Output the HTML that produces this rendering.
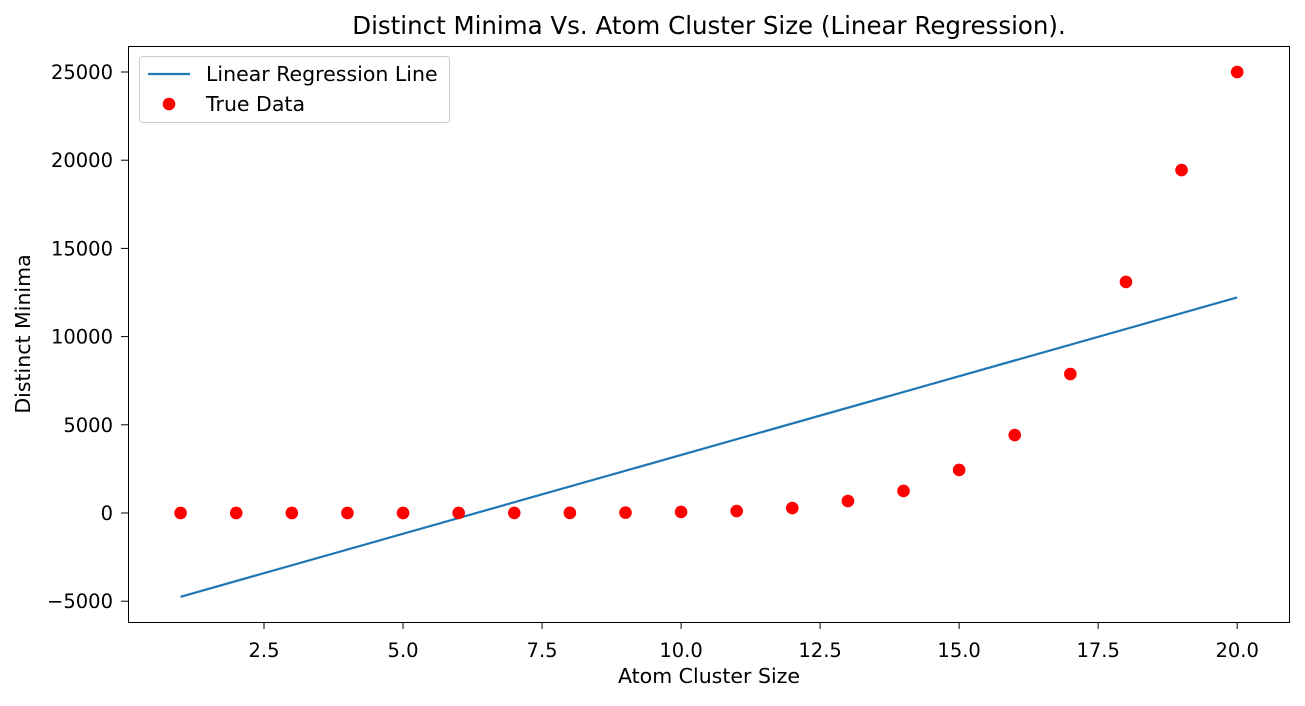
<!DOCTYPE html>
<html><head><meta charset="utf-8"><style>
body{margin:0;background:#fff}
svg text{font-family:"DejaVu Sans","Liberation Sans",sans-serif;fill:#000}
</style></head><body>
<svg id="chart" width="1305" height="701" xmlns="http://www.w3.org/2000/svg">
<rect width="1305" height="701" fill="#fff"/>
<text x="709" y="34" font-size="24.5" text-anchor="middle">Distinct Minima Vs. Atom Cluster Size (Linear Regression).</text>
<text x="709" y="683" font-size="20.5" text-anchor="middle">Atom Cluster Size</text>
<text x="0" y="0" font-size="20.5" text-anchor="middle" transform="translate(30,334) rotate(-90)">Distinct Minima</text>
<g id="marks"></g>
<rect x="128.5" y="46.5" width="1161" height="576" fill="none" stroke="#000" stroke-width="1"/>
<g id="ticks"></g>
<g>
<rect x="139.5" y="56.5" width="310" height="66" rx="3" fill="#fff" stroke="#ccc"/>
<line x1="148" y1="74" x2="190" y2="74" stroke="#1f77b4" stroke-width="2.2"/>
<text x="206" y="81" font-size="20.5">Linear Regression Line</text>
<circle cx="169" cy="104" r="6.3" fill="#ff0000"/>
<text x="206" y="111" font-size="20.5">True Data</text>
</g>
</svg>
<script>
const sizes=[1,2,3,4,5,6,7,8,9,10,11,12,13,14,15,16,17,18,19,20];
const minima=[1,1,1,1,1,2,4,8,21,60,110,280,680,1250,2440,4420,7880,13100,19440,25000];
const xTicks=[2.5,5.0,7.5,10.0,12.5,15.0,17.5,20.0];
const yTicks=[-5000,0,5000,10000,15000,20000,25000];
const NS="http://www.w3.org/2000/svg";
const X0=128,X1=1290,Y0=622,Y1=46,xmin=0.054,xmax=20.95,ymin=-6179,ymax=26474;
function xs(v){return X0+(v-xmin)/(xmax-xmin)*(X1-X0);}
function ys(v){return Y0-(v-ymin)/(ymax-ymin)*(Y0-Y1);}
const marks=document.getElementById('marks'),ticks=document.getElementById('ticks');
function mk(t,a,p){const e=document.createElementNS(NS,t);for(const k in a)e.setAttribute(k,a[k]);p.appendChild(e);return e;}
const n=sizes.length,mx=sizes.reduce((a,b)=>a+b)/n,my=minima.reduce((a,b)=>a+b)/n;
let sxy=0,sxx=0;for(let i=0;i<n;i++){sxy+=(sizes[i]-mx)*(minima[i]-my);sxx+=(sizes[i]-mx)**2;}
const slope=sxy/sxx,icpt=my-slope*mx;
const xa=sizes[0],xb=sizes[n-1];
const ln=mk('line',{x1:xs(xa),y1:ys(icpt+slope*xa),x2:xs(xb),y2:ys(icpt+slope*xb),stroke:'#1f77b4','stroke-width':2.2},marks);


sizes.forEach((s,i)=>{
 const c=mk('circle',{cx:xs(s),cy:ys(minima[i]),r:6.3,fill:'#ff0000'},marks);
 
 
});
xTicks.forEach(v=>{
 const x=xs(v);
 mk('line',{x1:x,y1:Y0,x2:x,y2:Y0+7,stroke:'#000'},ticks);
 const t=mk('text',{x:x,y:Y0+35,'font-size':19.5,'text-anchor':'middle'},ticks);
 t.textContent=v.toFixed(1);
 
 
});
yTicks.forEach(v=>{
 const y=ys(v);
 mk('line',{x1:X0-7,y1:y,x2:X0,y2:y,stroke:'#000'},ticks);
 const t=mk('text',{x:X0-15,y:y+7,'font-size':19.5,'text-anchor':'end'},ticks);
 t.textContent=v<0?'\u2212'+Math.abs(v):String(v);
 
 
});
</script>
</body></html>
